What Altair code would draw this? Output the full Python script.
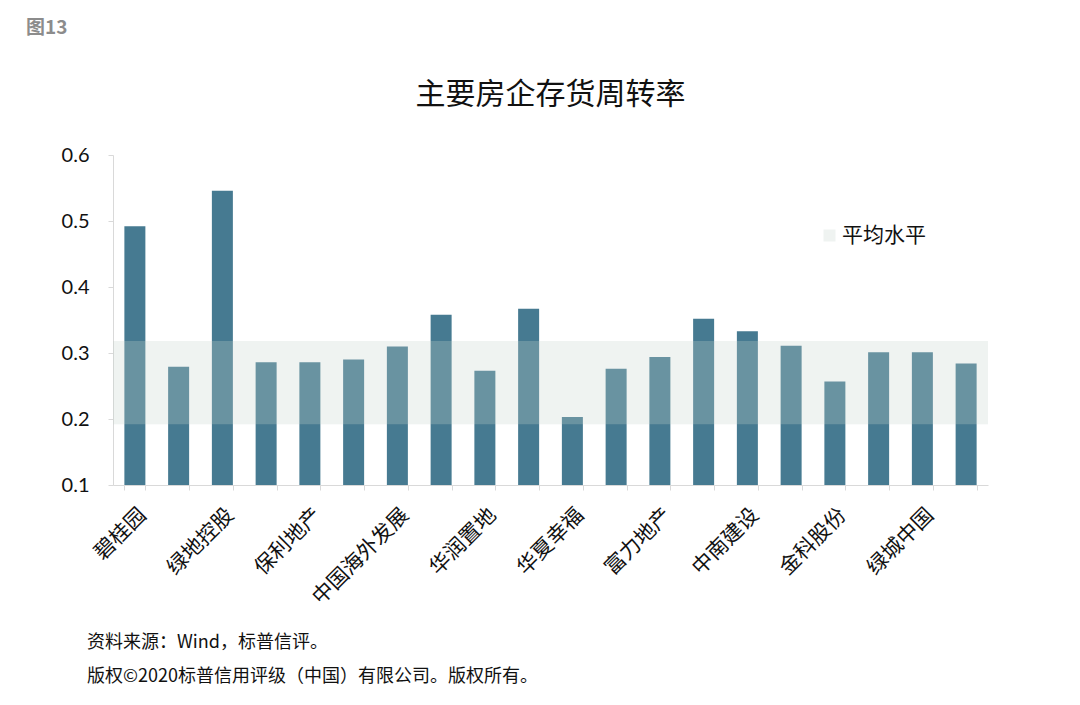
import altair as alt
import pandas as pd

companies = ["碧桂园", "万科A", "绿地控股", "中国恒大", "保利地产", "融创中国",
             "中国海外发展", "龙湖集团", "华润置地", "世茂房地产", "华夏幸福", "新城控股",
             "富力地产", "旭辉控股", "中南建设", "阳光城", "金科股份", "雅居乐",
             "绿城中国", "招商蛇口"]
shown_labels = ["碧桂园", "绿地控股", "保利地产", "中国海外发展", "华润置地",
                "华夏幸福", "富力地产", "中南建设", "金科股份", "绿城中国"]
turnover = [0.492, 0.279, 0.546, 0.286, 0.286, 0.290, 0.310, 0.358, 0.273, 0.367,
            0.203, 0.276, 0.294, 0.352, 0.333, 0.311, 0.257, 0.301, 0.301, 0.284]
avg_low = [0.192]
avg_high = [0.318]
avg_name = ["平均水平"]

FONT = "Noto Sans CJK SC"
W, H = 875, 330

bars_df = pd.DataFrame({"company": companies, "value": turnover})
band_df = pd.DataFrame({"lo": avg_low, "hi": avg_high, "series": avg_name})

label_list = "[" + ",".join("'" + s + "'" for s in shown_labels) + "]"

bars = alt.Chart(bars_df).mark_bar(color="#467a91").encode(
    x=alt.X("company:N", sort=companies,
            scale=alt.Scale(paddingInner=0.52, paddingOuter=0.26),
            axis=alt.Axis(title=None, labelAngle=315, labelAlign="right",
                          labelBaseline="top", labelFontSize=21, labelFont=FONT,
                          labelColor="#111111", labelPadding=14,
                          labelExpr="indexof(" + label_list + ", datum.value) >= 0 ? datum.label : ''",
                          tickBand="extent", tickColor="#d9d9d9", tickSize=5,
                          domainColor="#d9d9d9", grid=False)),
    y=alt.Y("value:Q", scale=alt.Scale(domain=[0.1, 0.6], clamp=True),
            axis=alt.Axis(title=None, values=[0.1, 0.2, 0.3, 0.4, 0.5, 0.6],
                          format=".1f", labelFontSize=20, labelFont="Lato",
                          labelColor="#111111", labelPadding=19,
                          tickColor="#d9d9d9", tickSize=5, domainColor="#d9d9d9",
                          grid=False)),
    y2=alt.datum(0.1),
)

band = alt.Chart(band_df).mark_rect(opacity=0.28).encode(
    x=alt.value(0),
    x2=alt.value("width"),
    y=alt.Y("lo:Q"),
    y2="hi:Q",
    color=alt.Color("series:N",
                    scale=alt.Scale(range=["#c6d4cd"]),
                    legend=alt.Legend(title=None, orient="none", legendX=706, legendY=70,
                                      symbolType="square", symbolSize=144,
                                      symbolStrokeWidth=0, symbolOpacity=0.28,
                                      labelFontSize=21, labelFont=FONT,
                                      labelColor="#111111", labelOffset=2)),
)

title = alt.Chart(pd.DataFrame({"t": ["主要房企存货周转率"]})).mark_text(
    font=FONT, fontSize=30, color="#111111", align="center", baseline="middle"
).encode(text="t:N", x=alt.value(W / 2), y=alt.value(-60))

fig = alt.Chart(pd.DataFrame({"t": ["图13"]})).mark_text(
    font=FONT, fontSize=19, fontWeight="bold", color="#8c8c8c", align="left", baseline="middle"
).encode(text="t:N", x=alt.value(-87), y=alt.value(-127))

foot1 = alt.Chart(pd.DataFrame({"t": ["资料来源：Wind，标普信评。"]})).mark_text(
    font=FONT, fontSize=18, color="#111111", align="left", baseline="middle"
).encode(text="t:N", x=alt.value(-26), y=alt.value(488))

foot2 = alt.Chart(pd.DataFrame({"t": ["版权©2020标普信用评级（中国）有限公司。版权所有。"]})).mark_text(
    font=FONT, fontSize=18, color="#111111", align="left", baseline="middle"
).encode(text="t:N", x=alt.value(-26), y=alt.value(522))

chart = alt.layer(bars, band, title, fig, foot1, foot2).properties(
    width=W, height=H,
    autosize=alt.AutoSizeParams(type="none"),
    padding={"left": 105, "top": 147, "right": 84, "bottom": 212},
).configure_view(stroke=None)

chart.save("out.html", embed_options={"renderer": "svg", "actions": False})
